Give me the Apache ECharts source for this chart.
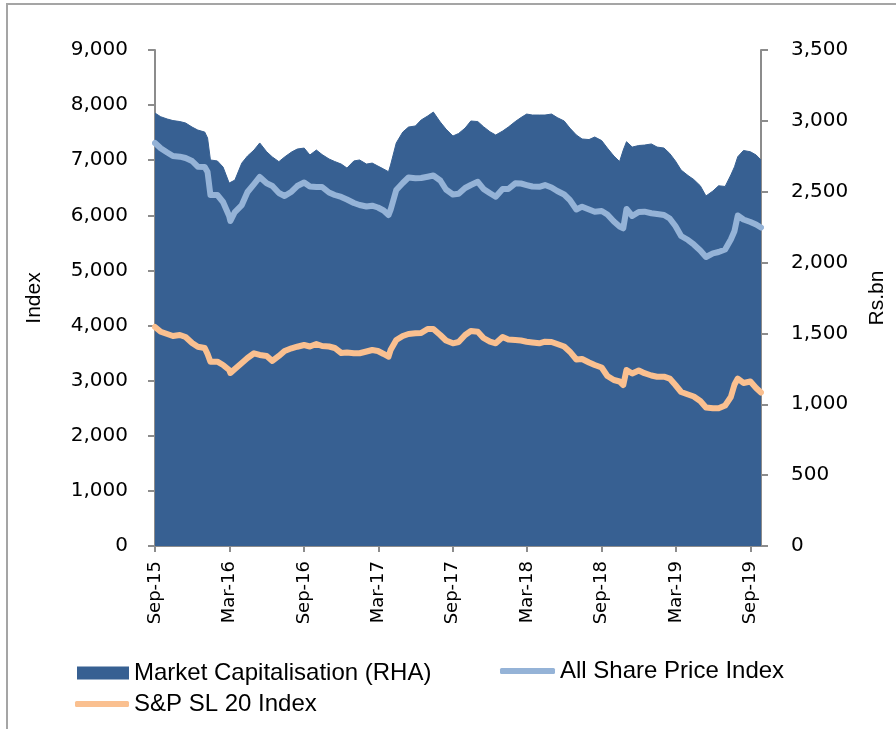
<!DOCTYPE html>
<html>
<head>
<meta charset="utf-8">
<title>Market Capitalisation and Share Price Indices</title>
<script src="https://cdn.jsdelivr.net/npm/echarts@6/dist/echarts.min.js"></script>
<style>
  html, body { margin: 0; padding: 0; background: #fff; overflow: hidden; }
  #wrap { position: relative; width: 896px; height: 729px; }
  #chart { position: absolute; left: 0; top: 0; width: 896px; height: 729px; }
  #frame {
    position: absolute; left: 6px; top: 3px; width: 1000px; height: 1000px;
    border-left: 2px solid #a5a5a5; border-top: 2px solid #a5a5a5;
    pointer-events: none;
  }
</style>
</head>
<body>
<div id="wrap">
  <div id="chart"></div>
  <div id="frame"></div>
</div>
<script>
// Observation dates (semi-monthly, plus a few turning points)
const dates = [
  '2015-09-01','2015-09-15','2015-10-01','2015-10-15','2015-11-01','2015-11-15','2015-12-01','2015-12-15',
  '2016-01-01','2016-01-08','2016-01-15','2016-02-01','2016-02-15','2016-03-01','2016-03-04','2016-03-15',
  '2016-04-01','2016-04-15','2016-05-01','2016-05-15','2016-06-01','2016-06-15','2016-07-01','2016-07-15',
  '2016-08-01','2016-08-15','2016-09-01','2016-09-15','2016-10-01','2016-10-15','2016-11-01','2016-11-15',
  '2016-12-01','2016-12-15',
  '2017-01-01','2017-01-15','2017-02-01','2017-02-15','2017-03-01','2017-03-15','2017-03-27','2017-04-01',
  '2017-04-15','2017-05-01','2017-05-15','2017-06-01','2017-06-15','2017-07-01','2017-07-15','2017-08-01',
  '2017-08-15','2017-09-01','2017-09-15','2017-10-01','2017-10-15','2017-11-01','2017-11-15','2017-12-01',
  '2017-12-15',
  '2018-01-01','2018-01-15','2018-02-01','2018-02-15','2018-03-01','2018-03-15','2018-04-01','2018-04-15',
  '2018-05-01','2018-05-15','2018-06-01','2018-06-15','2018-07-01','2018-07-15','2018-08-01','2018-08-15',
  '2018-09-01','2018-09-15','2018-10-01','2018-10-15','2018-10-24','2018-11-01','2018-11-15','2018-12-01',
  '2018-12-15',
  '2019-01-01','2019-01-15','2019-02-01','2019-02-15','2019-03-01','2019-03-15','2019-04-01','2019-04-15',
  '2019-05-01','2019-05-15','2019-06-01','2019-06-15','2019-07-01','2019-07-15','2019-07-24','2019-08-01',
  '2019-08-15','2019-09-01','2019-09-15','2019-09-27'
];

// Market capitalisation, Rs. bn (right-hand axis)
const marketCap = [
  3055,3029,3013,3002,2995,2985,2956,2935,
  2921,2879,2724,2717,2674,2561,2547,2582,
  2702,2752,2794,2844,2782,2745,2712,2745,
  2780,2801,2808,2759,2794,2762,2731,2713,
  2695,2667,
  2717,2724,2695,2702,2681,2660,2641,2688,
  2844,2921,2956,2964,3006,3034,3062,2992,
  2942,2893,2911,2949,2999,2995,2959,2923,
  2900,
  2928,2956,2995,3023,3048,3041,3041,3041,
  3048,3023,2999,2949,2900,2872,2868,2886,
  2861,2808,2752,2713,2794,2853,2815,2826,
  2829,
  2837,2815,2808,2770,2717,2653,2614,2586,
  2542,2470,2505,2542,2537,2618,2676,2747,
  2791,2782,2759,2724
];

// All Share Price Index
const allSharePrice = [
  7312,7216,7140,7077,7064,7040,6986,6882,
  6877,6786,6369,6369,6242,5988,5897,6060,
  6187,6423,6568,6696,6581,6532,6405,6351,
  6429,6532,6596,6523,6514,6514,6414,6369,
  6333,6287,
  6224,6187,6160,6175,6142,6088,6006,6097,
  6460,6587,6686,6672,6677,6701,6723,6632,
  6469,6378,6391,6496,6550,6608,6478,6400,
  6338,
  6478,6478,6581,6578,6550,6523,6518,6550,
  6505,6441,6378,6278,6106,6157,6106,6066,
  6079,6015,5888,5797,5765,6115,5988,6060,
  6066,
  6037,6024,6006,5942,5806,5625,5552,5471,
  5362,5244,5311,5335,5380,5561,5716,5997,
  5924,5879,5834,5779
];

// S&P SL 20 Index
const spSL20 = [
  3974,3888,3847,3810,3829,3792,3683,3616,
  3593,3484,3344,3344,3284,3194,3139,3212,
  3321,3411,3497,3466,3448,3357,3448,3538,
  3587,3616,3647,3620,3665,3629,3620,3593,
  3502,3511,
  3497,3497,3529,3556,3538,3484,3435,3556,
  3738,3810,3847,3859,3865,3937,3937,3829,
  3729,3678,3702,3829,3901,3888,3774,3707,
  3678,
  3792,3747,3738,3729,3707,3693,3678,3707,
  3702,3665,3620,3526,3384,3393,3330,3284,
  3239,3085,3012,2985,2921,3194,3130,3184,
  3135,
  3094,3072,3072,3039,2921,2794,2749,2713,
  2631,2513,2499,2499,2549,2704,2930,3039,
  2958,2985,2867,2785
];

// Axis settings
const leftTicks = { min: 0, max: 9000, step: 1000 };
const rightTicks = { min: 0, max: 3500, step: 500 };
const seriesNames = ['Market Capitalisation (RHA)', 'All Share Price Index', 'S&P SL 20 Index'];

const DAY = 86400000;
const T0 = Date.parse(dates[0]);
const dayOf = d => (Date.parse(d) - T0) / DAY;
const MONTHS = ['Jan','Feb','Mar','Apr','May','Jun','Jul','Aug','Sep','Oct','Nov','Dec'];
// Half-year ticks fall on or just before the 1st of Mar / Sep; round up to that day
function monthLabel(v) {
  const dt = new Date(T0 + Math.ceil(v - 1e-6) * DAY);
  return MONTHS[dt.getUTCMonth()] + '-' + String(dt.getUTCFullYear()).slice(2);
}
const withCommas = v => String(v).replace(/\B(?=(\d{3})+(?!\d))/g, ',');
const pairs = vals => dates.map((d, i) => [dayOf(d), vals[i]]);

const axisGrey = '#8c8c8c';
const tickFont = { color: '#000', fontFamily: 'DejaVu Sans', fontSize: 20 };

const chart = echarts.init(document.getElementById('chart'), null, { renderer: 'canvas' });
chart.setOption({
  animation: false,
  backgroundColor: '#fff',
  grid: { left: 155, right: 134, top: 50, bottom: 183 },
  xAxis: {
    type: 'value',
    min: 0,
    max: dayOf(dates[dates.length - 1]),
    interval: 1461 / 8,
    splitLine: { show: false },
    axisLine: { show: true, lineStyle: { color: axisGrey, width: 2 } },
    axisTick: { show: true, length: 6, lineStyle: { color: axisGrey, width: 2 } },
    axisLabel: {
      rotate: 90, margin: 15, color: '#000', fontFamily: 'DejaVu Sans', fontSize: 18,
      showMaxLabel: false, showMinLabel: true, formatter: monthLabel
    }
  },
  yAxis: [
    {
      type: 'value', position: 'left',
      min: leftTicks.min, max: leftTicks.max, interval: leftTicks.step,
      name: 'Index', nameLocation: 'middle', nameGap: 110, nameMoveOverlap: false,
      nameTextStyle: { color: '#000', fontFamily: 'Liberation Sans', fontSize: 21 },
      splitLine: { show: false },
      axisLine: { show: true, lineStyle: { color: axisGrey, width: 2 } },
      axisTick: { show: true, length: 7, lineStyle: { color: axisGrey, width: 2 } },
      axisLabel: Object.assign({ margin: 27, formatter: withCommas }, tickFont)
    },
    {
      type: 'value', position: 'right',
      min: rightTicks.min, max: rightTicks.max, interval: rightTicks.step,
      name: 'Rs.bn', nameLocation: 'middle', nameGap: 106, nameMoveOverlap: false,
      nameTextStyle: { color: '#000', fontFamily: 'Liberation Sans', fontSize: 21 },
      splitLine: { show: false },
      axisLine: { show: true, lineStyle: { color: axisGrey, width: 2 } },
      axisTick: { show: true, length: 7, lineStyle: { color: axisGrey, width: 2 } },
      axisLabel: Object.assign({ margin: 30, formatter: withCommas }, tickFont)
    }
  ],
  legend: [
    {
      data: [seriesNames[0]], left: 72, top: 656, icon: 'rect',
      itemWidth: 52, itemHeight: 13,
      textStyle: { color: '#000', fontFamily: 'Liberation Sans', fontSize: 24 }
    },
    {
      data: [seriesNames[1]], left: 495, top: 654, icon: 'roundRect',
      itemWidth: 55, itemHeight: 6,
      textStyle: { color: '#000', fontFamily: 'Liberation Sans', fontSize: 24 }
    },
    {
      data: [seriesNames[2]], left: 70, top: 687, icon: 'roundRect',
      itemWidth: 54, itemHeight: 6,
      textStyle: { color: '#000', fontFamily: 'Liberation Sans', fontSize: 24 }
    }
  ],
  series: [
    {
      name: seriesNames[0], type: 'line', yAxisIndex: 1,
      data: pairs(marketCap), color: '#376092',
      showSymbol: false, symbol: 'none',
      lineStyle: { width: 1, color: '#376092' },
      areaStyle: { color: '#376092', opacity: 1 },
      z: 1
    },
    {
      name: seriesNames[1], type: 'line', yAxisIndex: 0,
      data: pairs(allSharePrice), color: '#95b3d7',
      showSymbol: false, symbol: 'none',
      lineStyle: { width: 6, color: '#95b3d7', join: 'round', cap: 'round' },
      z: 3
    },
    {
      name: seriesNames[2], type: 'line', yAxisIndex: 0,
      data: pairs(spSL20), color: '#fac090',
      showSymbol: false, symbol: 'none',
      lineStyle: { width: 6, color: '#fac090', join: 'round', cap: 'round' },
      z: 3
    }
  ]
});
</script>
</body>
</html>
